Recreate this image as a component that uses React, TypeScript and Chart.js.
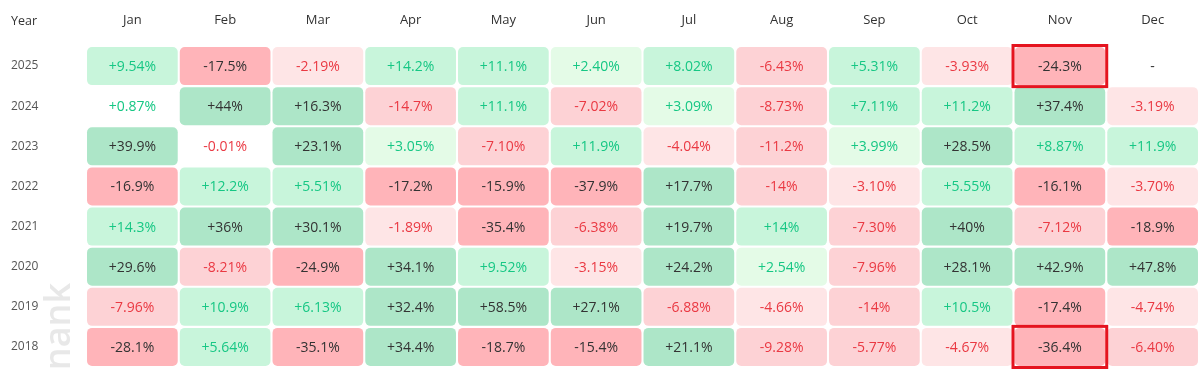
import React, { useEffect, useRef } from "react";
import { Chart, registerables } from "chart.js";

Chart.register(...registerables);

const months = ["Jan", "Feb", "Mar", "Apr", "May", "Jun", "Jul", "Aug", "Sep", "Oct", "Nov", "Dec"];
const years = ["2025", "2024", "2023", "2022", "2021", "2020", "2019", "2018"];

const y2025 = [9.54, -17.5, -2.19, 14.2, 11.1, 2.4, 8.02, -6.43, 5.31, -3.93, -24.3, null];
const y2024 = [0.87, 44, 16.3, -14.7, 11.1, -7.02, 3.09, -8.73, 7.11, 11.2, 37.4, -3.19];
const y2023 = [39.9, -0.01, 23.1, 3.05, -7.1, 11.9, -4.04, -11.2, 3.99, 28.5, 8.87, 11.9];
const y2022 = [-16.9, 12.2, 5.51, -17.2, -15.9, -37.9, 17.7, -14, -3.1, 5.55, -16.1, -3.7];
const y2021 = [14.3, 36, 30.1, -1.89, -35.4, -6.38, 19.7, 14, -7.3, 40, -7.12, -18.9];
const y2020 = [29.6, -8.21, -24.9, 34.1, 9.52, -3.15, 24.2, 2.54, -7.96, 28.1, 42.9, 47.8];
const y2019 = [-7.96, 10.9, 6.13, 32.4, 58.5, 27.1, -6.88, -4.66, -14, 10.5, -17.4, -4.74];
const y2018 = [-28.1, 5.64, -35.1, 34.4, -18.7, -15.4, 21.1, -9.28, -5.77, -4.67, -36.4, -6.4];

const rows: (number | null)[][] = [y2025, y2024, y2023, y2022, y2021, y2020, y2019, y2018];

const highlighted = [
  { year: "2025", month: "Nov" },
  { year: "2018", month: "Nov" },
];

const POS = ["#ffffff", "#e4fbe7", "#c8f5db", "#ade6c8"];
const NEG = ["#ffffff", "#fee5e6", "#fdd2d5", "#ffb4b9"];
const FONT = "'Open Sans', 'Noto Sans', sans-serif";
const CELL_H = 0.95;

function level(v: number) {
  const a = Math.abs(v);
  return a < 1 ? 0 : a < 5 ? 1 : a < 15 ? 2 : 3;
}
function bg(v: number | null) {
  if (v == null) return "rgba(0,0,0,0)";
  return (v >= 0 ? POS : NEG)[level(v)];
}
function fg(v: number | null) {
  if (v == null || level(v) === 3) return "#333333";
  return v >= 0 ? "#16c784" : "#ea3943";
}
function fmt(v: number | null) {
  if (v == null) return "-";
  const a = Math.abs(v);
  const s = a < 1 ? a.toFixed(2) : a.toPrecision(3).replace(/\.0$/, "");
  return (v >= 0 ? "+" : "-") + s + "%";
}

const cellPlugin = {
  id: "cellPlugin",
  beforeDraw(chart: any) {
    const { ctx } = chart;
    ctx.save();
    ctx.translate(60, 283);
    ctx.rotate(-Math.PI / 2);
    ctx.font = `600 36px ${FONT}`;
    ctx.fillStyle = "#e8e8e8";
    ctx.textAlign = "right";
    ctx.textBaseline = "middle";
    ctx.fillText("coinank", 0, 0);
    ctx.restore();
  },
  afterDatasetsDraw(chart: any) {
    const { ctx } = chart;
    const x = chart.scales.x;
    const y = chart.scales.y;
    ctx.save();
    ctx.font = `14px ${FONT}`;
    ctx.textAlign = "center";
    ctx.textBaseline = "middle";
    rows.forEach((row, i) => {
      row.forEach((v, j) => {
        ctx.fillStyle = fg(v);
        ctx.fillText(fmt(v), x.getPixelForValue(j), y.getPixelForValue(i) + 1);
      });
    });
    // highlight boxes
    ctx.strokeStyle = "#e5141f";
    ctx.lineWidth = 3;
    highlighted.forEach((h) => {
      const i = years.indexOf(h.year);
      const j = months.indexOf(h.month);
      const el = chart.getDatasetMeta(i).data[j];
      if (!el) return;
      const p = el.getProps(["x", "y", "base", "width"], true);
      const left = p.x - p.width / 2;
      const top = Math.min(p.y, p.base);
      const hgt = Math.abs(p.base - p.y);
      ctx.strokeRect(left - 1.5, top - 1.5, p.width + 3, hgt + 3);
    });
    // "Year" header
    ctx.font = `12.5px ${FONT}`;
    ctx.fillStyle = "#333333";
    ctx.textAlign = "left";
    ctx.fillText("Year", 11, 21);
    ctx.restore();
  },
};

export default function App() {
  const ref = useRef<HTMLCanvasElement>(null);
  useEffect(() => {
    document.body.style.margin = "0";
    const canvas = ref.current!;
    const chart = new Chart(canvas, {
      type: "bar",
      data: {
        labels: months,
        datasets: rows.map((row, i) => ({
          label: years[i],
          data: row.map((v) => (v == null ? null : [i - CELL_H / 2, i + CELL_H / 2])) as any,
          backgroundColor: row.map((v) => bg(v)),
          borderRadius: 5,
          borderSkipped: false,
          borderWidth: 0,
          grouped: false,
          barPercentage: 0.978,
          categoryPercentage: 1,
        })),
      },
      options: {
        animation: false,
        responsive: false,
        devicePixelRatio: 1,
        layout: { padding: { left: 11, right: 0, top: 0, bottom: 3 } },
        plugins: { legend: { display: false }, tooltip: { enabled: false } },
        scales: {
          x: {
            position: "top",
            grid: { display: false },
            border: { display: false },
            ticks: { color: "#333333", font: { family: FONT, size: 13 }, padding: 10 },
            afterFit: (s: any) => {
              s.height = 46;
              s.paddingLeft = 0;
              s.paddingRight = 0;
            },
          },
          y: {
            type: "linear",
            min: -0.5,
            max: 7.5,
            reverse: true,
            grid: { display: false },
            border: { display: false },
            afterBuildTicks: (s: any) => {
              s.ticks = years.map((_, i) => ({ value: i }));
            },
            ticks: {
              color: "#555555",
              crossAlign: "far",
              font: { family: FONT, size: 12 },
              callback: (v: any) => years[v] ?? "",
            },
            afterFit: (s: any) => {
              s.width = 75;
              s.paddingTop = 0;
              s.paddingBottom = 0;
            },
          },
        },
      },
      plugins: [cellPlugin],
    } as any);
    return () => chart.destroy();
  }, []);
  return (
    <div style={{ width: 1199, height: 370, background: "#fff" }}>
      <canvas ref={ref} width={1199} height={370} style={{ display: "block" }} />
    </div>
  );
}
